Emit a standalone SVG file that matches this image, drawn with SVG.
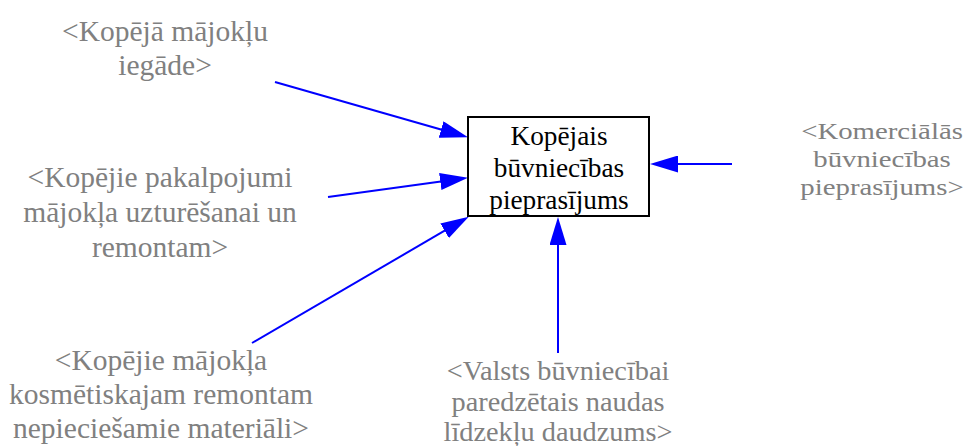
<svg xmlns="http://www.w3.org/2000/svg" width="966" height="446" viewBox="0 0 966 446">
<style>
text{font-family:"Liberation Serif","Times New Roman",serif;font-size:29.5px;text-anchor:middle}
.g{fill:#808080}
.b{fill:#000;font-size:27.3px}
.v{font-size:28.3px}
.k{font-size:24px}
.c{fill:none;stroke:#0000ff;stroke-width:2}
.box{fill:#fff;stroke:#000;stroke-width:2}
</style>
<defs>
<marker id="ah" markerUnits="userSpaceOnUse" markerWidth="28" markerHeight="17" refX="8" refY="8.5" orient="auto">
<path d="M0,0 L28,8.5 L0,17 z" fill="#0000ff"/>
</marker>
</defs>
<rect width="966" height="446" fill="#fff"/>
<g id="connectors">
<path class="c" d="M275,82 L448.8,131.7" marker-end="url(#ah)"/>
<path class="c" d="M328,197 L448.2,180.4" marker-end="url(#ah)"/>
<path class="c" d="M252,343 L451.5,226.7" marker-end="url(#ah)"/>
<path class="c" d="M558,353 L558,237" marker-end="url(#ah)"/>
<path class="c" d="M732,164 L670,164" marker-end="url(#ah)"/>
</g>
<g id="kopejais">
<rect class="box" x="468" y="117" width="181" height="99"/>
<text class="b"><tspan x="559" y="145">Kopējais</tspan><tspan x="559" y="177">būvniecības</tspan><tspan x="559" y="209">pieprasījums</tspan></text>
</g>
<g id="majoklu-iegade">
<text class="g"><tspan x="165" y="41">&lt;Kopējā mājokļu</tspan><tspan x="165" y="75">iegāde&gt;</tspan></text>
</g>
<g id="pakalpojumi">
<text class="g"><tspan x="160" y="187">&lt;Kopējie pakalpojumi</tspan><tspan x="160" y="222">mājokļa uzturēšanai un</tspan><tspan x="160" y="257">remontam&gt;</tspan></text>
</g>
<g id="materiali">
<text class="g"><tspan x="161" y="370">&lt;Kopējie mājokļa</tspan><tspan x="161" y="404">kosmētiskajam remontam</tspan><tspan x="161" y="438">nepieciešamie materiāli&gt;</tspan></text>
</g>
<g id="valsts">
<text class="g v"><tspan x="558" y="380">&lt;Valsts būvniecībai</tspan><tspan x="558" y="411">paredzētais naudas</tspan><tspan x="558" y="441">līdzekļu daudzums&gt;</tspan></text>
</g>
<g id="komercialas">
<text class="g k" transform="matrix(1.2 0 0 1 882 0)"><tspan x="0" y="139">&lt;Komerciālās</tspan><tspan x="0" y="167">būvniecības</tspan><tspan x="0" y="195">pieprasījums&gt;</tspan></text>
</g>
</svg>
